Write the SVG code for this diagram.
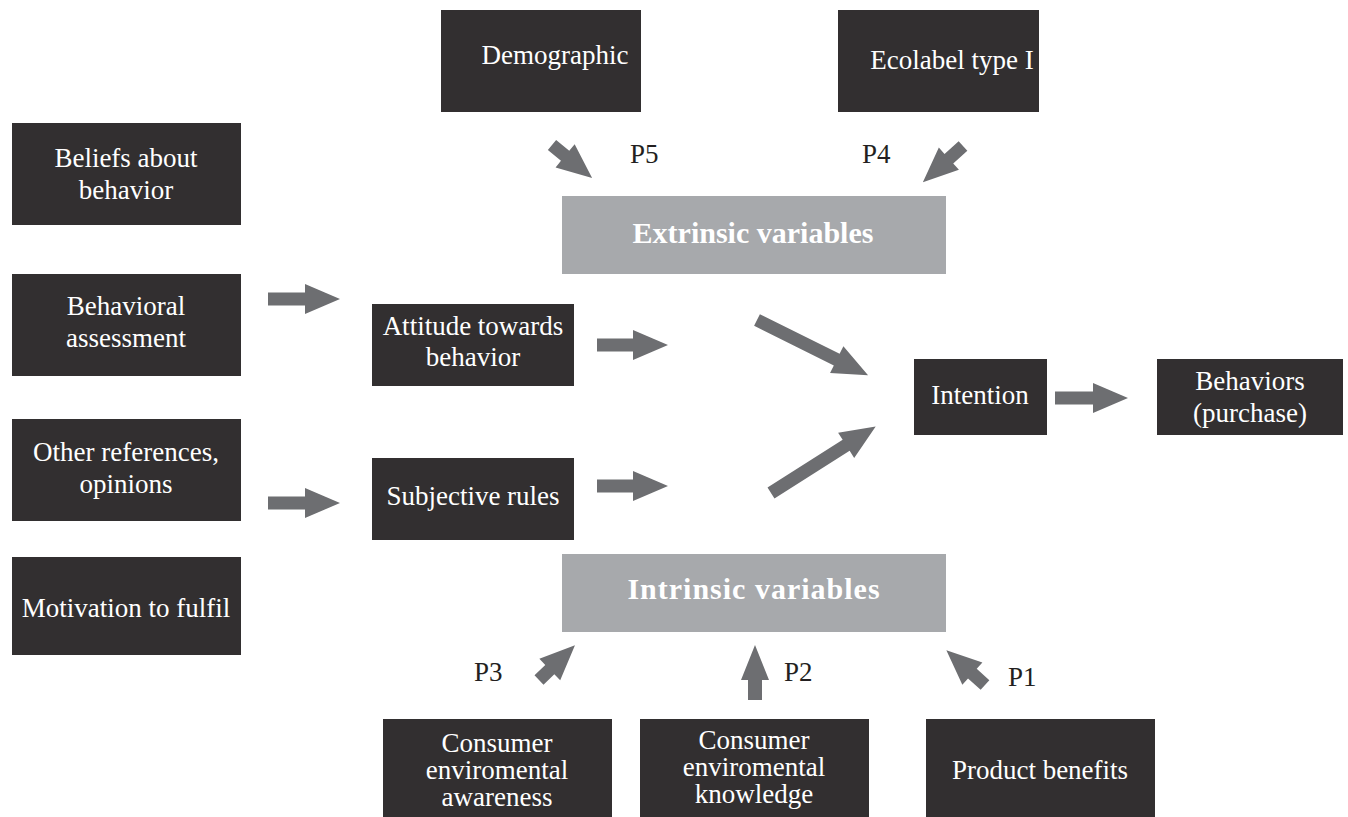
<svg xmlns="http://www.w3.org/2000/svg" width="1348" height="817" viewBox="0 0 1348 817">
<style>
.box{fill:#322f30}
.gbox{fill:#a7a9ac}
.t{font-family:"Liberation Serif","Times New Roman",serif;font-size:27px;fill:#ffffff;text-anchor:middle}
.tb{font-family:"Liberation Serif","Times New Roman",serif;font-size:30px;font-weight:bold;fill:#ffffff;text-anchor:middle}
.p{font-family:"Liberation Serif","Times New Roman",serif;font-size:27px;fill:#231f20}
.arr{fill:#6d6e71}
</style>
<rect width="1348" height="817" fill="#ffffff"/>
<g id="demographic"><rect class="box" x="441" y="10" width="200" height="102"/><text class="t" x="555" y="64">Demographic</text></g>
<g id="ecolabel"><rect class="box" x="838" y="10" width="201" height="102"/><text class="t" x="952" y="69">Ecolabel type I</text></g>
<g id="beliefs"><rect class="box" x="12" y="123" width="229" height="102"/><text class="t" x="126" y="167">Beliefs about</text><text class="t" x="126" y="199">behavior</text></g>
<g id="assessment"><rect class="box" x="12" y="274" width="229" height="102"/><text class="t" x="126" y="315">Behavioral</text><text class="t" x="126" y="347">assessment</text></g>
<g id="references"><rect class="box" x="12" y="419" width="229" height="102"/><text class="t" x="126" y="461">Other references,</text><text class="t" x="126" y="493">opinions</text></g>
<g id="motivation"><rect class="box" x="12" y="557" width="229" height="98"/><text class="t" x="126" y="617">Motivation to fulfil</text></g>
<g id="extrinsic"><rect class="gbox" x="562" y="196" width="384" height="78"/><text class="tb" x="753" y="243">Extrinsic variables</text></g>
<g id="attitude"><rect class="box" x="372" y="304" width="202" height="82"/><text class="t" x="473" y="335">Attitude towards</text><text class="t" x="473" y="366">behavior</text></g>
<g id="subjective"><rect class="box" x="372" y="458" width="202" height="82"/><text class="t" x="473" y="505">Subjective rules</text></g>
<g id="intention"><rect class="box" x="914" y="359" width="133" height="76"/><text class="t" x="980" y="404">Intention</text></g>
<g id="behaviors"><rect class="box" x="1157" y="359" width="186" height="76"/><text class="t" x="1250" y="390">Behaviors</text><text class="t" x="1250" y="422">(purchase)</text></g>
<g id="intrinsic"><rect class="gbox" x="562" y="554" width="384" height="78"/><text class="tb" x="754" y="599" letter-spacing="1">Intrinsic variables</text></g>
<g id="awareness"><rect class="box" x="383" y="719" width="229" height="98"/><text class="t" x="497" y="752">Consumer</text><text class="t" x="497" y="779">enviromental</text><text class="t" x="497" y="806">awareness</text></g>
<g id="knowledge"><rect class="box" x="640" y="719" width="229" height="98"/><text class="t" x="754" y="749">Consumer</text><text class="t" x="754" y="776">enviromental</text><text class="t" x="754" y="803">knowledge</text></g>
<g id="benefits"><rect class="box" x="926" y="719" width="229" height="98"/><text class="t" x="1040" y="779">Product benefits</text></g>
<g id="labels">
<text class="p" x="630" y="163">P5</text>
<text class="p" x="862" y="163">P4</text>
<text class="p" x="474" y="681">P3</text>
<text class="p" x="784" y="681">P2</text>
<text class="p" x="1008" y="686">P1</text>
</g>
<g id="connectors">
<polygon class="arr" transform="translate(552,145) rotate(39.5)" points="0,-6.5 17,-6.5 17,-15 52,0 17,15 17,6.5 0,6.5"/>
<polygon class="arr" transform="translate(963,146) rotate(138)" points="0,-6.5 19,-6.5 19,-15 54,0 19,15 19,6.5 0,6.5"/>
<polygon class="arr" transform="translate(268,299)" points="0,-6.5 37,-6.5 37,-15 72,0 37,15 37,6.5 0,6.5"/>
<polygon class="arr" transform="translate(268,503)" points="0,-6.5 37,-6.5 37,-15 72,0 37,15 37,6.5 0,6.5"/>
<polygon class="arr" transform="translate(597,345)" points="0,-6.5 36,-6.5 36,-15 71,0 36,15 36,6.5 0,6.5"/>
<polygon class="arr" transform="translate(597,486)" points="0,-6.5 36,-6.5 36,-15 71,0 36,15 36,6.5 0,6.5"/>
<polygon class="arr" transform="translate(757,320) rotate(26.4)" points="0,-6.5 89,-6.5 89,-15 124,0 89,15 89,6.5 0,6.5"/>
<polygon class="arr" transform="translate(771,493) rotate(-32.4)" points="0,-6.5 89,-6.5 89,-15 124,0 89,15 89,6.5 0,6.5"/>
<polygon class="arr" transform="translate(1055,398)" points="0,-6.5 38,-6.5 38,-15 73,0 38,15 38,6.5 0,6.5"/>
<polygon class="arr" transform="translate(539,680) rotate(-44)" points="0,-6.5 15,-6.5 15,-15 50,0 15,15 15,6.5 0,6.5"/>
<polygon class="arr" transform="translate(755,700) rotate(-90)" points="0,-7 20,-7 20,-14 55,0 20,14 20,7 0,7"/>
<polygon class="arr" transform="translate(985,685) rotate(222)" points="0,-6.5 17,-6.5 17,-15 52,0 17,15 17,6.5 0,6.5"/>
</g>
</svg>
